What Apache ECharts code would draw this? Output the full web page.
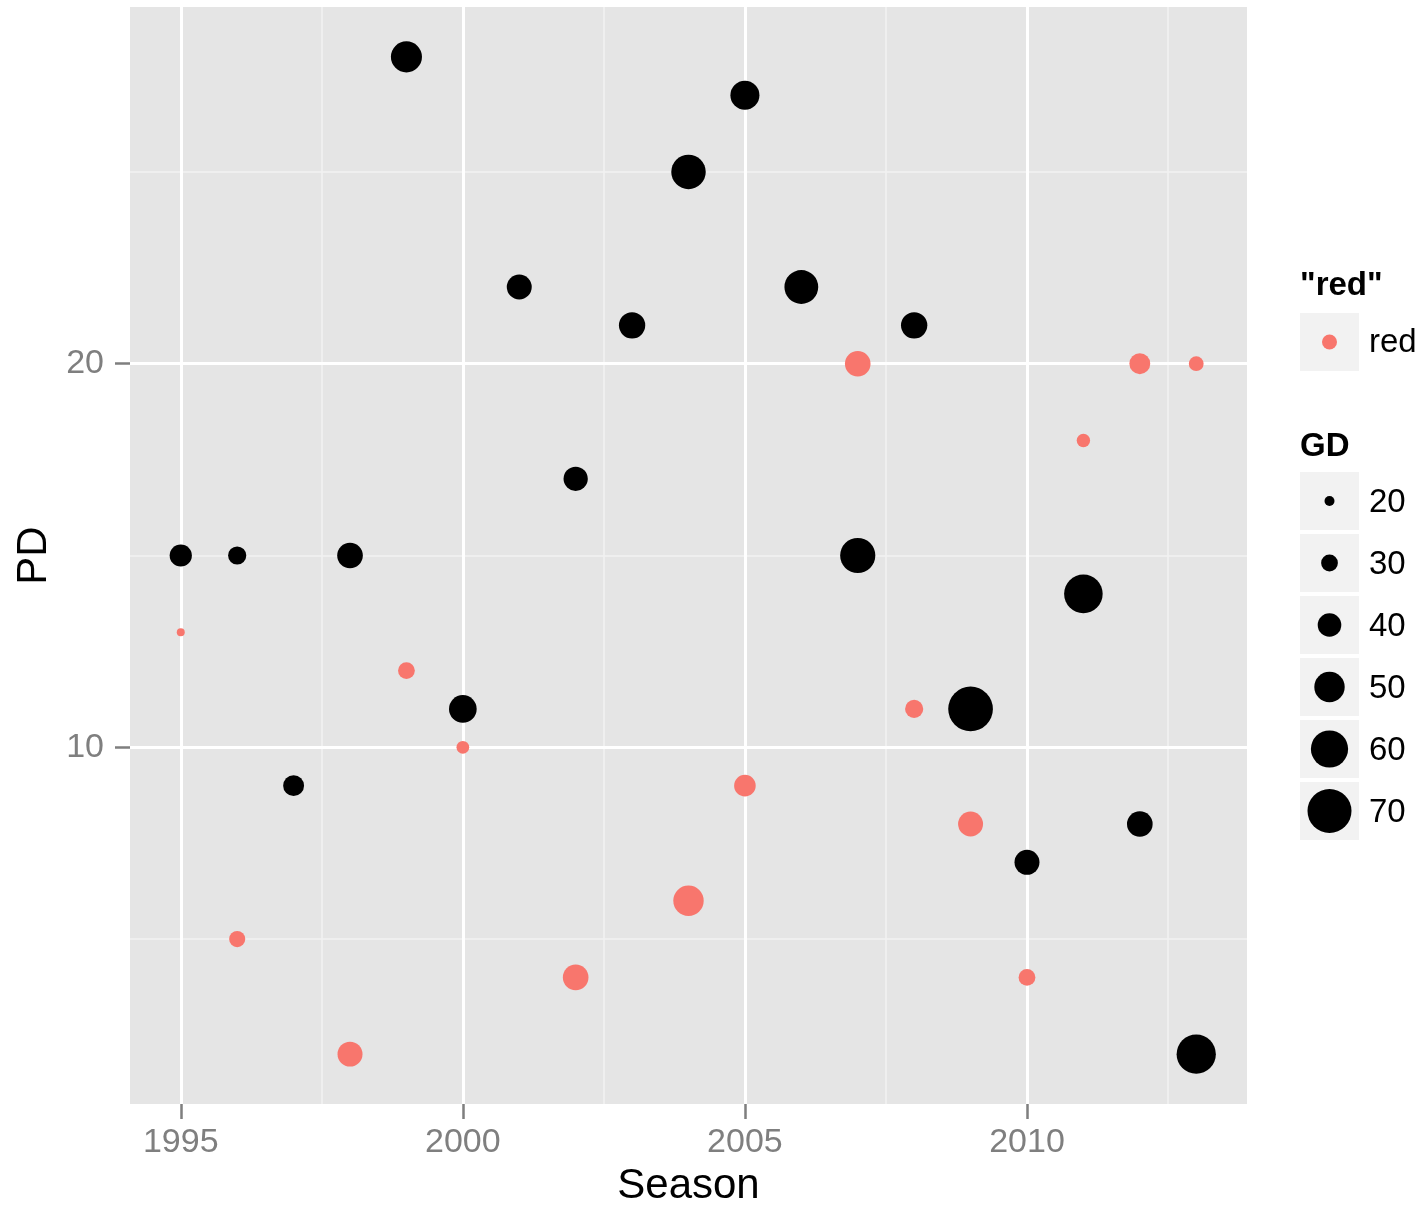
<!DOCTYPE html>
<html><head><meta charset="utf-8">
<script src="https://cdn.jsdelivr.net/npm/echarts@6/dist/echarts.min.js"></script>
<style>html,body{margin:0;padding:0;background:#fff}#c{width:1428px;height:1212px}</style>
</head><body><div id="c"></div>
<script>
// ---- data ----
const blackSeason = [1995,1996,1997,1998,1999,2000,2001,2002,2003,2004,2005,2006,2007,2008,2009,2010,2011,2012,2013];
const blackPD     = [15,15,9,15,28,11,22,17,21,25,27,22,15,21,11,7,14,8,2];
const blackGD     = [38,32,36,43,51,46,42,41,44,56,48,55,57,44,71,42,62,43,63];
const redSeason   = [1995,1996,1998,1999,2000,2002,2004,2005,2007,2008,2009,2010,2011,2012,2013];
const redPD       = [13,5,2,12,10,4,6,9,20,11,8,4,18,20,20];
const redGD       = [17,29,42,30,24,43,50,37,43,32,42,30,25,36,27];
const xTicks = [1995, 2000, 2005, 2010];
const xMinor = [1997.5, 2002.5, 2007.5, 2012.5];
const yTicks = [10, 20];
const yMinor = [5, 15, 25];
const gdLegend = [20, 30, 40, 50, 60, 70];
const colourLegend = ['red'];
const colourTitle = '"red"';
const sizeTitle = 'GD';

// ---- styles ----
const RED = '#F8766D', BLACK = '#000000';
const FONT = '"Liberation Sans", Arial, sans-serif';
function sizeOf(gd) { return 10 + 0.68 * (gd - 20); }

const blackData = blackSeason.map((s, i) => [s, blackPD[i], blackGD[i]]);
const redData = redSeason.map((s, i) => [s, redPD[i], redGD[i]]);

const minorStyle = { color: '#F2F2F2', width: 1.5, type: 'solid' };
const majorStyle = { color: '#FFFFFF', width: 3, type: 'solid' };
const gridLines = []
  .concat(xMinor.map(v => ({ xAxis: v, lineStyle: minorStyle })))
  .concat(yMinor.map(v => ({ yAxis: v, lineStyle: minorStyle })))
  .concat(xTicks.map(v => ({ xAxis: v, lineStyle: majorStyle })))
  .concat(yTicks.map(v => ({ yAxis: v, lineStyle: majorStyle })));

// ---- legend (graphic) ----
const graphics = [];
const keyX = 1300, keyW = 59, keyH = 58, labelX = 1369;
graphics.push({ type: 'text', left: keyX, top: 269, style: { text: colourTitle, fontSize: 33, fontWeight: 'bold', fontFamily: FONT, fill: '#000' } });
colourLegend.forEach((lab, i) => {
  const cy = 342 + i * 62;
  graphics.push({ type: 'rect', shape: { x: keyX, y: cy - keyH / 2, width: keyW, height: keyH }, style: { fill: '#F2F2F2' } });
  graphics.push({ type: 'circle', shape: { cx: keyX + keyW / 2, cy: cy, r: 7.5 }, style: { fill: RED } });
  graphics.push({ type: 'text', x: labelX, y: cy + 1, style: { text: lab, fontSize: 33, fontFamily: FONT, fill: '#000', verticalAlign: 'middle', align: 'left' } });
});
graphics.push({ type: 'text', left: keyX, top: 430, style: { text: sizeTitle, fontSize: 33, fontWeight: 'bold', fontFamily: FONT, fill: '#000' } });
gdLegend.forEach((v, i) => {
  const cy = 501 + i * 62;
  graphics.push({ type: 'rect', shape: { x: keyX, y: cy - keyH / 2, width: keyW, height: keyH }, style: { fill: '#F2F2F2' } });
  graphics.push({ type: 'circle', shape: { cx: keyX + keyW / 2, cy: cy, r: sizeOf(v) / 2 }, style: { fill: BLACK } });
  graphics.push({ type: 'text', x: labelX, y: cy + 2, style: { text: String(v), fontSize: 33, fontFamily: FONT, fill: '#000', verticalAlign: 'middle', align: 'left' } });
});

const chart = echarts.init(document.getElementById('c'), null, { renderer: 'canvas' });
chart.setOption({
  animation: false,
  backgroundColor: '#FFFFFF',
  textStyle: { fontFamily: FONT },
  grid: { left: 130, top: 7, width: 1117, height: 1098, show: true, backgroundColor: '#E5E5E5', borderWidth: 0, containLabel: false },
  xAxis: {
    type: 'value', min: 1994.1, max: 2013.9,
    name: 'Season', nameLocation: 'middle', nameGap: 61,
    nameTextStyle: { fontSize: 42, color: '#000', fontFamily: FONT },
    axisLine: { show: false },
    axisTick: { show: true, length: 15, lineStyle: { color: '#7F7F7F', width: 2.5 }, customValues: xTicks },
    axisLabel: { show: true, fontSize: 34, color: '#7F7F7F', margin: 22, fontFamily: FONT, customValues: xTicks, formatter: v => String(v) },
    splitLine: { show: false }, minorSplitLine: { show: false }
  },
  yAxis: {
    type: 'value', min: 0.7, max: 29.3,
    name: 'PD', nameLocation: 'middle', nameGap: 63,
    nameTextStyle: { fontSize: 42, color: '#000', fontFamily: FONT },
    axisLine: { show: false },
    axisTick: { show: true, length: 15, lineStyle: { color: '#7F7F7F', width: 2.5 }, customValues: yTicks },
    axisLabel: { show: true, fontSize: 34, color: '#7F7F7F', margin: 26, fontFamily: FONT, customValues: yTicks, formatter: v => String(v) },
    splitLine: { show: false }, minorSplitLine: { show: false }
  },
  series: [
    { type: 'scatter', name: 'grid', data: [], silent: true,
      markLine: { silent: true, z: 1, symbol: ['none', 'none'], label: { show: false }, animation: false, data: gridLines } },
    { type: 'scatter', name: 'PD', data: blackData, z: 3,
      symbol: 'circle', symbolSize: v => sizeOf(v[2]), itemStyle: { color: BLACK, opacity: 1 } },
    { type: 'scatter', name: 'red', data: redData, z: 3,
      symbol: 'circle', symbolSize: v => sizeOf(v[2]), itemStyle: { color: RED, opacity: 1 } }
  ],
  graphic: graphics
});
</script>
</body></html>
